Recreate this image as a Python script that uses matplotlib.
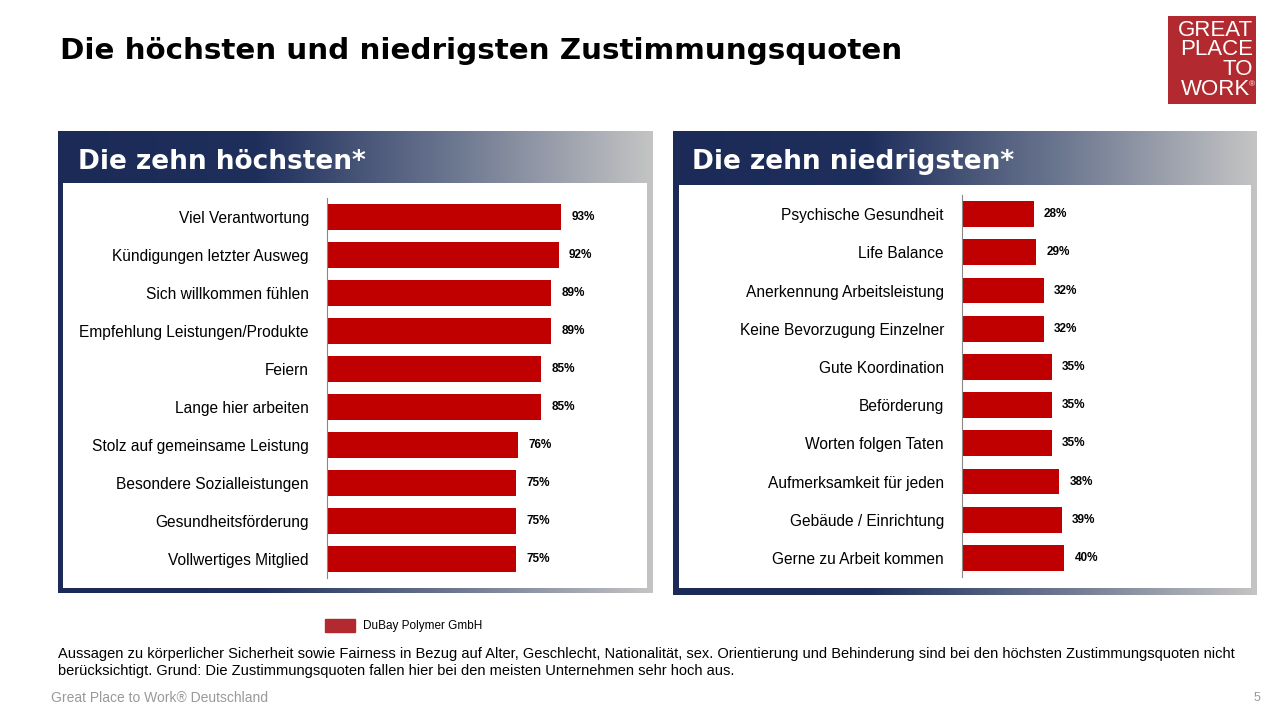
import matplotlib
matplotlib.use("Agg")
import matplotlib.pyplot as plt
import numpy as np
from matplotlib.patches import Rectangle
from matplotlib.colors import LinearSegmentedColormap

top_labels = ["Viel Verantwortung", "Kündigungen letzter Ausweg", "Sich willkommen fühlen",
              "Empfehlung Leistungen/Produkte", "Feiern", "Lange hier arbeiten",
              "Stolz auf gemeinsame Leistung", "Besondere Sozialleistungen",
              "Gesundheitsförderung", "Vollwertiges Mitglied"]
top_values = [93, 92, 89, 89, 85, 85, 76, 75, 75, 75]
low_labels = ["Psychische Gesundheit", "Life Balance", "Anerkennung Arbeitsleistung",
              "Keine Bevorzugung Einzelner", "Gute Koordination", "Beförderung",
              "Worten folgen Taten", "Aufmerksamkeit für jeden", "Gebäude / Einrichtung",
              "Gerne zu Arbeit kommen"]
low_values = [28, 29, 32, 32, 35, 35, 35, 38, 39, 40]
series_name = "DuBay Polymer GmbH"

W, H = 1280, 720
fig = plt.figure(figsize=(12.8, 7.2), dpi=100)
fig.patch.set_facecolor("white")
RED = "#c00000"

def fx(x): return x / W
def fy(y): return 1 - y / H

def box(x0, y0, x1, y1):
    return [fx(x0), fy(y1), fx(x1 - x0), (y1 - y0) / H]

cmap = LinearSegmentedColormap.from_list("g", ["#1b2a57", "#1f2f5c", "#6c7790", "#c4c4c4"])

def panel(ox0, oy0, ox1, oy1, ix0, iy0, ix1, iy1, title, ax0, ay0, ax1, ay1, labels, values, xmax):
    g = fig.add_axes(box(ox0, oy0, ox1, oy1))
    g.imshow(np.linspace(0, 1, 256)[None, :], aspect="auto", cmap=cmap, extent=[0, 1, 0, 1])
    g.axis("off")
    g.text(0.033, 1 - 31 / (oy1 - oy0), title, transform=g.transAxes, color="white",
           fontsize=19, fontweight="heavy", va="center", ha="left", family="DejaVu Sans")
    inner = fig.add_axes(box(ix0, iy0, ix1, iy1))
    inner.set_facecolor("white")
    inner.set_xticks([]); inner.set_yticks([])
    for s in inner.spines.values(): s.set_visible(False)
    ax = fig.add_axes(box(ax0, ay0, ax1, ay1))
    y = np.arange(len(values))
    ax.barh(y, values, height=0.68, color=RED)
    ax.set_ylim(len(values) - 0.5, -0.5)
    ax.set_xlim(0, xmax)
    ax.set_yticks(y)
    ax.set_yticklabels(labels, fontsize=11.2, family="Liberation Sans")
    ax.tick_params(axis="y", length=0, pad=13)
    ax.set_xticks([])
    for k in ["top", "right", "bottom"]: ax.spines[k].set_visible(False)
    ax.spines["left"].set_color("#888888")
    ax.set_facecolor("none")
    for yi, v in zip(y, values):
        ax.text(v + 4, yi, f"{v}%", va="center", ha="left", fontsize=8.5,
                fontweight="bold", family="Liberation Sans")

panel(58, 131, 653, 593, 63, 183, 647, 588, "Die zehn höchsten*",
      327, 198, 647, 578, top_labels, top_values, 127)
panel(673, 131, 1257, 595, 679, 185, 1251, 588, "Die zehn niedrigsten*",
      962, 195, 1251, 577, low_labels, low_values, 113)

fig.text(fx(60), fy(51), "Die höchsten und niedrigsten Zustimmungsquoten", fontsize=21.2,
         fontweight="heavy", va="center", ha="left", family="DejaVu Sans")

# logo
lg = fig.add_axes(box(1168, 16, 1256, 104))
lg.set_facecolor("#b22a30"); lg.set_xticks([]); lg.set_yticks([])
for s in lg.spines.values(): s.set_visible(False)
for i, t in enumerate(["GREAT", "PLACE", "TO", "WORK"]):
    lg.text(0.93 if t == "WORK" else 0.97, 0.84 - i * 0.225, t, transform=lg.transAxes,
            color="white", fontsize=16, ha="right", va="center", family="Liberation Sans")
lg.text(0.99, 0.22, "®", transform=lg.transAxes, color="white", fontsize=6, ha="right",
        va="center", family="Liberation Sans")

# legend
fig.patches.append(Rectangle((fx(325), fy(632)), fx(30), 13 / H, color="#b22a30",
                             transform=fig.transFigure))
fig.text(fx(363), fy(626), series_name, fontsize=8.5, va="center", family="Liberation Sans")

fig.text(fx(58), fy(654), "Aussagen zu körperlicher Sicherheit sowie Fairness in Bezug auf Alter, Geschlecht, Nationalität, sex. Orientierung und Behinderung sind bei den höchsten Zustimmungsquoten nicht",
         fontsize=10.5, va="center", family="Liberation Sans")
fig.text(fx(58), fy(671), "berücksichtigt. Grund: Die Zustimmungsquoten fallen hier bei den meisten Unternehmen sehr hoch aus.",
         fontsize=10.5, va="center", family="Liberation Sans")
fig.text(fx(51), fy(698), "Great Place to Work® Deutschland", fontsize=10, color="#999999",
         va="center", family="Liberation Sans")
fig.text(fx(1260), fy(698), "5", fontsize=9, color="#999999", va="center", ha="right",
         family="Liberation Sans")

fig.savefig("out.png", dpi=100)
